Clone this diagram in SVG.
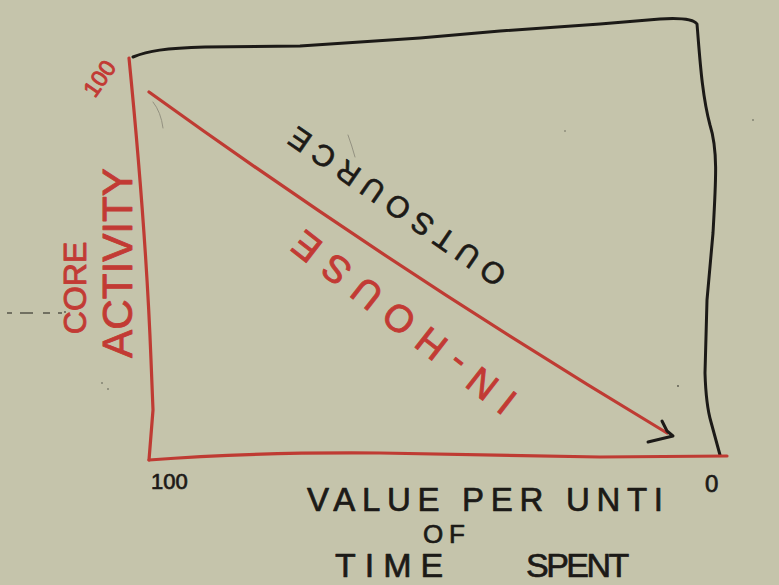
<svg xmlns="http://www.w3.org/2000/svg" width="779" height="585" viewBox="0 0 779 585">
  <style>
    .red { fill: none; stroke: #bf3b33; stroke-width: 3.2; stroke-linecap: round; stroke-linejoin: round; }
    .blk { fill: none; stroke: #1c1a17; stroke-width: 3; stroke-linecap: round; stroke-linejoin: round; }
    .faint { fill: none; stroke: #8d8b7c; stroke-width: 0.9; stroke-linecap: round; }
    .t { font-family: "Liberation Sans", Arial, sans-serif; stroke-linejoin: round; }
    .tr { fill: #c23a34; stroke: #c23a34; stroke-width: 0.9; }
    .tb { fill: #1c1a17; stroke: #1c1a17; stroke-width: 0.7; }
  </style>
  <rect x="0" y="0" width="779" height="585" fill="#c5c4ab"/>

  <g id="specks" fill="#55544a">
    <path d="M7,313 H12 M20,313 H33 M43,313 H50 M58,313 H62" stroke="#55544a" stroke-width="1.4" fill="none"/>
    <circle cx="65" cy="312" r="0.9"/>
    <circle cx="102" cy="383" r="0.8"/>
    <circle cx="108" cy="389" r="0.8"/>
    <circle cx="678" cy="386" r="0.9"/>
    <circle cx="753" cy="120" r="0.8"/>
    <circle cx="565" cy="131" r="0.7"/>
  </g>

  <g id="frame">
    <path class="blk" d="M133,57 C148,51 165,48 205,47 L300,46 L420,38 L500,31 L600,24 L660,19 Q692,17 697,24 C700,60 702,95 710,125 C718,150 716,180 713,233 L707,300 L705,373 Q706,405 711,422 L720,455"/>
  </g>

  <g id="axes">
    <path class="red" d="M129,58 Q146,230 151,360 L153,410 L149,460"/>
    <path class="red" d="M149,460 Q250,452 380,453 L600,457 L727,456"/>
  </g>

  <g id="connectors">
    <path class="red" d="M149,92 Q400,273 667,433"/>
    <path class="blk" d="M662,421 L667,431 L673,436 L648,442"/>
    <path class="faint" d="M153,102 Q161,112 163,128"/>
    <path class="faint" d="M348,135 Q352,146 355,157"/>
  </g>

  <g id="label-outsource">
    <text class="t tb" font-size="30" text-anchor="middle" textLength="256" lengthAdjust="spacing" transform="translate(403,198) rotate(214.6)">OUTSOURCE</text>
  </g>

  <g id="label-inhouse">
    <text class="t tr" font-size="38" text-anchor="middle" textLength="272" lengthAdjust="spacing" transform="translate(412,312) rotate(218)">IN-HOUSE</text>
  </g>

  <g id="label-y-axis">
    <text class="t tr" font-size="32" text-anchor="middle" transform="translate(86,288) rotate(-90)">CORE</text>
    <text class="t tr" font-size="42" text-anchor="middle" textLength="190" lengthAdjust="spacingAndGlyphs" transform="translate(132,263) rotate(-90)">ACTIVITY</text>
    <text class="t tr" font-size="23" text-anchor="middle" transform="translate(106,83) rotate(-55)">100</text>
  </g>

  <g id="label-x-axis">
    <text class="t tb" font-size="22" x="151" y="489">100</text>
    <text class="t tb" font-size="24" x="705" y="492">0</text>
    <text class="t tb" font-size="33" x="307" y="511" textLength="356" lengthAdjust="spacing">VALUE PER UNTI</text>
    <text class="t tb" font-size="26" x="423" y="543" textLength="42" lengthAdjust="spacing">OF</text>
    <text class="t tb" font-size="34" y="577"><tspan x="335" letter-spacing="9">TIME</tspan> <tspan x="526" letter-spacing="-2.5">SPENT</tspan></text>
  </g>
</svg>
